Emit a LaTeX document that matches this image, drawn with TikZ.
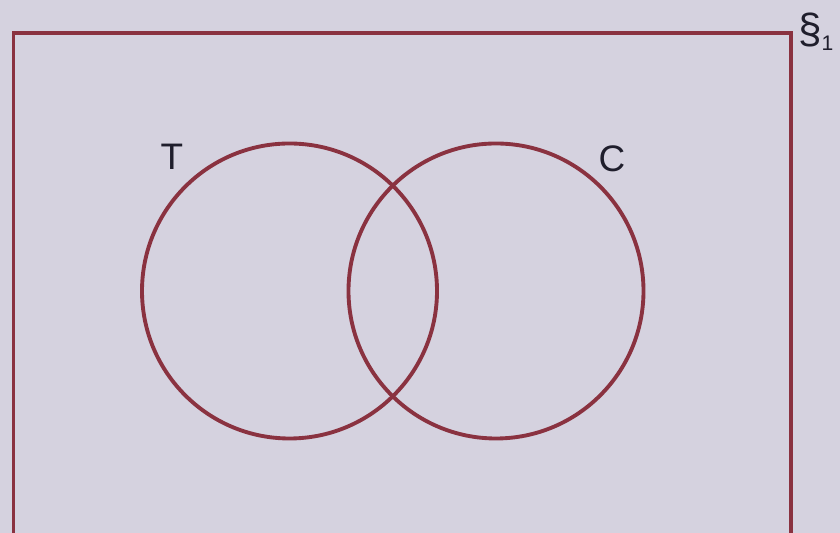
\documentclass[tikz,border=0pt]{standalone}
\usepackage{fontspec}
\setmainfont{Liberation Sans}
\usepackage{tikz}
\usetikzlibrary{positioning}
\definecolor{vPaper}{HTML}{D5D2DF}
\definecolor{vLine}{HTML}{8A3240}
\definecolor{vInk}{HTML}{1F1E2C}

\begin{document}
\begin{tikzpicture}[
    setline/.style={draw=vLine, line width=2.2pt},
    lbl/.style={text=vInk, font=\fontsize{21}{24}\selectfont, inner sep=1pt},
  ]
    % page and its size
    \fill[vPaper] (0,0) rectangle (16.8,10.66);
    \useasboundingbox (0,0) rectangle (16.8,10.66);

    % universal set
    \draw[setline] (0.27,-0.3) -- (0.27,10.0) coordinate (ul)
                   -- (15.82,10.0) coordinate (ur) -- (15.82,-0.3);
    \node[lbl, anchor=south west] (u) at (15.92,9.6)
      {\fontsize{24}{26}\selectfont\S\raisebox{-0.35ex}{\fontsize{12}{14}\selectfont 1}};

    % the two sets
    \draw[setline] (5.79,4.84) circle (2.95);
    \draw[setline] (9.92,4.84) circle (2.95);

    % labels
    \node[lbl] (t) at (3.44,7.52) {T};
    \node[lbl] (c) at (12.24,7.48) {C};
  \end{tikzpicture}
\end{document}
